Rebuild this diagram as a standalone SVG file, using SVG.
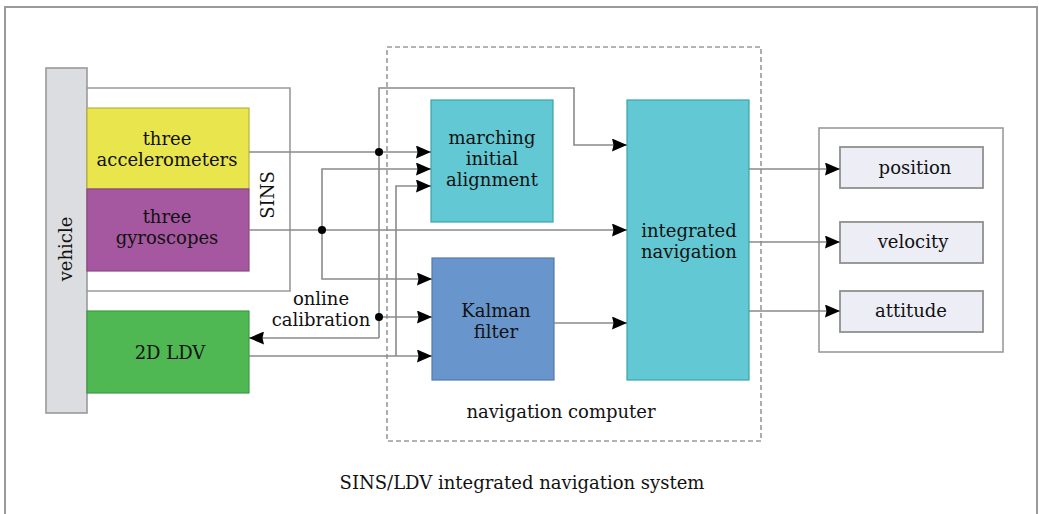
<svg xmlns="http://www.w3.org/2000/svg" width="1039" height="514" viewBox="0 0 1039 514">
  <defs>
    <marker id="arrow" markerUnits="userSpaceOnUse" markerWidth="15" markerHeight="13" refX="15" refY="6.5" orient="auto">
      <path d="M0,0 L15,6.5 L0,13 L1.5,6.5 Z" fill="#000"/>
    </marker>
    <style>
      text { font-family: "DejaVu Serif", "Liberation Serif", serif; font-size: 18px; fill: #111; text-anchor: middle; }
      .frame { fill: none; stroke: #9a9a9a; stroke-width: 2; }
      .wire { fill: none; stroke: #8a8a8a; stroke-width: 1.6; }
      .arr { marker-end: url(#arrow); }
      .dot { fill: #000; }
      .out { fill: #ecedf5; stroke: #8f8f8f; stroke-width: 1.8; }
    </style>
  </defs>

  <rect width="1039" height="514" fill="#fff"/>

  <!-- outer system frame -->
  <g id="system">
    <path class="frame" d="M5,520 V7 H1037 V520"/>
    <text x="522" y="489">SINS/LDV integrated navigation system</text>
  </g>

  <!-- navigation computer (dashed) -->
  <g id="nav-computer">
    <rect x="387" y="47" width="374" height="394" fill="none" stroke="#9a9a9a" stroke-width="1.6" stroke-dasharray="5,3"/>
    <text x="561" y="418">navigation computer</text>
  </g>

  <!-- vehicle -->
  <g id="vehicle">
    <rect x="46" y="68" width="41" height="345" fill="#dcdde0" stroke="#9a9a9a" stroke-width="1.6"/>
    <text transform="translate(72,249) rotate(-90)">vehicle</text>
  </g>

  <!-- SINS enclosure -->
  <g id="sins">
    <path d="M87,88 H290 V291 H87" fill="none" stroke="#9a9a9a" stroke-width="1.6"/>
    <text transform="translate(274,195) rotate(-90)">SINS</text>
  </g>

  <g id="accelerometers">
    <rect x="87" y="108" width="162" height="81" fill="#e8e64c" stroke="#b7b23c" stroke-width="1.2"/>
    <text x="167" y="145">three</text>
    <text x="167" y="166">accelerometers</text>
  </g>

  <g id="gyroscopes">
    <rect x="87" y="189" width="162" height="82" fill="#a558a0" stroke="#8a4686" stroke-width="1.2"/>
    <text x="167" y="223">three</text>
    <text x="167" y="244">gyroscopes</text>
  </g>

  <g id="ldv">
    <rect x="87" y="311" width="162" height="82" fill="#4fb852" stroke="#3e9a42" stroke-width="1.2"/>
    <text x="170" y="359">2D LDV</text>
  </g>

  <g id="alignment">
    <rect x="431" y="100" width="122" height="122" fill="#62c8d3" stroke="#3aa3aa" stroke-width="1.2"/>
    <text x="492" y="144">marching</text>
    <text x="492" y="165">initial</text>
    <text x="492" y="186">alignment</text>
  </g>

  <g id="kalman">
    <rect x="432" y="258" width="122" height="122" fill="#6795cc" stroke="#557aa6" stroke-width="1.2"/>
    <text x="496" y="317">Kalman</text>
    <text x="496" y="338">filter</text>
  </g>

  <g id="integrated">
    <rect x="627" y="100" width="122" height="280" fill="#62c8d3" stroke="#3aa3aa" stroke-width="1.2"/>
    <text x="689" y="237">integrated</text>
    <text x="689" y="258">navigation</text>
  </g>

  <!-- outputs -->
  <g id="outputs">
    <rect x="819" y="128" width="184" height="224" fill="none" stroke="#9a9a9a" stroke-width="1.6"/>
  </g>
  <g id="position">
    <rect class="out" x="840" y="147" width="143" height="41"/>
    <text x="915" y="174">position</text>
  </g>
  <g id="velocity">
    <rect class="out" x="840" y="222" width="143" height="41"/>
    <text x="913" y="248">velocity</text>
  </g>
  <g id="attitude">
    <rect class="out" x="840" y="291" width="143" height="41"/>
    <text x="911" y="317">attitude</text>
  </g>

  <g id="online-label">
    <text x="321" y="305">online</text>
    <text x="321" y="326">calibration</text>
  </g>

  <!-- connectors -->
  <g id="connectors">
    <path class="wire arr" d="M249,152 H431"/>
    <path class="wire arr" d="M249,230 H627"/>
    <path class="wire arr" d="M322,230 V169 H431"/>
    <path class="wire arr" d="M322,230 V279 H432"/>
    <path class="wire arr" d="M379,338 V88 H574 V145 H627"/>
    <path class="wire arr" d="M379,317 H432"/>
    <path class="wire arr" d="M379,338 H249"/>
    <path class="wire arr" d="M249,356 H432"/>
    <path class="wire arr" d="M396,356 V186 H431"/>
    <path class="wire arr" d="M554,323 H627"/>
    <path class="wire arr" d="M749,169 H840"/>
    <path class="wire arr" d="M749,242 H840"/>
    <path class="wire arr" d="M749,311 H840"/>
    <circle class="dot" cx="379" cy="152" r="4"/>
    <circle class="dot" cx="322" cy="230" r="4"/>
    <circle class="dot" cx="379" cy="317" r="4"/>
  </g>
</svg>
